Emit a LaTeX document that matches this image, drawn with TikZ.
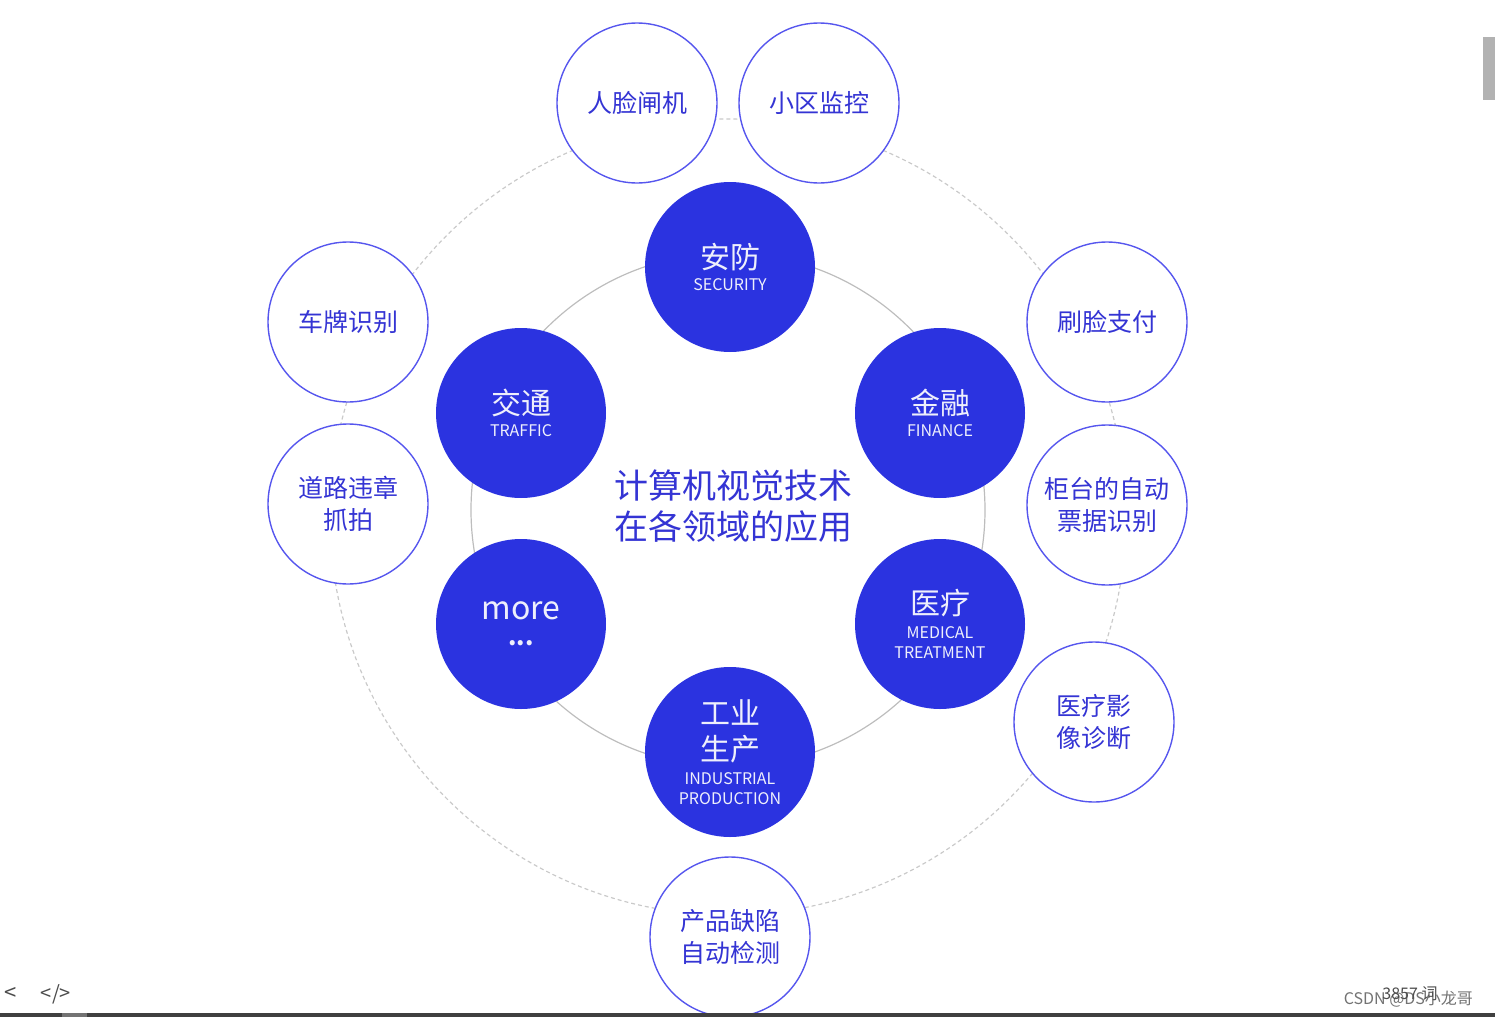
\documentclass[tikz,border=0pt]{standalone}
\usepackage{fontspec}
\setmainfont{Noto Sans CJK SC}
\usepackage{xcolor}
\usetikzlibrary{positioning}
\definecolor{cvblue}{HTML}{2B33E0}
\definecolor{cvline}{HTML}{5656EE}
\definecolor{cvtext}{HTML}{3434D4}
\definecolor{ringgray}{HTML}{BDBDBD}
\newcommand{\entag}[1]{{\fontsize{8}{9}\selectfont #1}}
\tikzset{
  field/.style={circle, fill=cvblue, minimum size=85pt, inner sep=0pt, align=center, text=white!92!cvblue,
                font=\fontsize{15}{16}\selectfont},
  app/.style={circle, draw=cvline, line width=0.7pt, fill=white, minimum size=80pt, inner sep=0pt, align=center,
              text=cvtext, font=\fontsize{12.5}{16}\selectfont},
  ring/.style={draw=ringgray, line width=0.6pt},
  dring/.style={draw=ringgray!80, line width=0.6pt, dash pattern=on 2pt off 1.5pt},
  uitext/.style={text=black!55, font=\fontsize{8}{9}\selectfont},
}
\begin{document}
\begin{tikzpicture}[x=0.5pt, y=-0.5pt]
  \useasboundingbox (0,0) rectangle (1495,1017);
  % rings
  \draw[dring] (728,517) circle[radius=199pt];
  \draw[ring] (728,510) circle[radius=128.5pt];
  % application fields
  \node[field] (sec) at (730,267) {安防\\[-5pt]\entag{SECURITY}};
  \node[field] (fin) at (940,413) {金融\\[-5pt]\entag{FINANCE}};
  \node[field] (med) at (940,624) {医疗\\[-4pt]\entag{MEDICAL}\\[-6pt]\entag{TREATMENT}};
  \node[field] (ind) at (730,752) {工业\\[2pt]生产\\[-4pt]\entag{INDUSTRIAL}\\[-6pt]\entag{PRODUCTION}};
  \node[field] (more) at (521,624) {{\fontsize{16}{16}\selectfont more}\\[-3pt]{\fontsize{12}{8}\bfseries ...}};
  \node[field] (tra) at (521,413) {交通\\[-5pt]\entag{TRAFFIC}};
  \node[text=cvtext, align=center, font=\fontsize{17}{20.5}\selectfont] (title) at (733,506)
    {计算机视觉技术\\在各领域的应用};
  % concrete applications
  \node[app] (face) at (637,103) {人脸闸机};
  \node[app] (comm) at (819,103) {小区监控};
  \node[app] (pay) at (1107,322) {刷脸支付};
  \node[app] (bill) at (1107,505) {柜台的自动\\票据识别};
  \node[app] (img) at (1094,722) {医疗影\\像诊断};
  \node[app] (defect) at (730,937) {产品缺陷\\自动检测};
  \node[app] (road) at (348,504) {道路违章\\抓拍};
  \node[app] (plate) at (348,322) {车牌识别};
  % page chrome
  \fill[black!75] (0,1013) rectangle (1495,1017);
  \fill[black!55] (62,1013) rectangle (87,1017);
  \fill[black!30] (1483,37) rectangle (1495,100);
  \node[uitext, text=black!70, font=\fontsize{11}{12}\selectfont] (back) at (11,994) {<};
  \node[uitext, text=black!70, font=\fontsize{10}{12}\selectfont] (code) at (56,994) {</>};
  \node[uitext, anchor=east] (mark) at (1480,999) {CSDN @DS小龙哥};
  \node[uitext, text=black!70] (words) at (1410,994) {3857 词};
\end{tikzpicture}
\end{document}
